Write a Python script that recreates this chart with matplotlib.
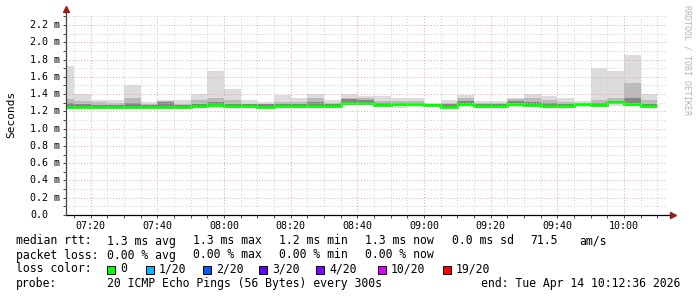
import matplotlib
matplotlib.use("Agg")
import matplotlib.pyplot as plt
import matplotlib.dates as mdates
from matplotlib.patches import Rectangle
import numpy as np
import pandas as pd

# smokeping data, one value per 5 minute step, in ms
median_ms = [1.245, 1.245, 1.245, 1.245, 1.245, 1.245, 1.25, 1.255, 1.26, 1.275,
             1.26, 1.26, 1.255, 1.26, 1.26, 1.266, 1.266, 1.30, 1.293, 1.277,
             1.285, 1.285, 1.277, 1.255, 1.28, 1.26, 1.26, 1.28, 1.27, 1.266,
             1.262, 1.285, 1.277, 1.305, 1.28, 1.259]
min_ms = [1.23, 1.235, 1.235, 1.235, 1.235, 1.235, 1.225, 1.23, 1.24, 1.235,
          1.245, 1.245, 1.235, 1.245, 1.245, 1.25, 1.245, 1.27, 1.27, 1.245,
          1.24, 1.245, 1.26, 1.24, 1.255, 1.25, 1.25, 1.255, 1.255, 1.245,
          1.25, 1.25, 1.255, 1.26, 1.26, 1.245]
max_ms = [1.72, 1.40, 1.33, 1.33, 1.51, 1.31, 1.33, 1.33, 1.40, 1.67,
          1.46, 1.33, 1.31, 1.385, 1.35, 1.40, 1.33, 1.40, 1.38, 1.38,
          1.36, 1.36, 1.30, 1.33, 1.39, 1.315, 1.315, 1.36, 1.40, 1.38,
          1.35, 1.32, 1.70, 1.67, 1.85, 1.40]
inner_ms = [1.34, 1.32, 1.31, 1.30, 1.35, 1.29, 1.32, 1.29, 1.33, 1.36,
            1.33, 1.29, 1.29, 1.31, 1.31, 1.35, 1.30, 1.36, 1.35, 1.32,
            1.32, 1.32, 1.29, 1.30, 1.36, 1.30, 1.30, 1.34, 1.35, 1.33,
            1.31, 1.30, 1.33, 1.35, 1.53, 1.33]
dark_ms = [1.30, 1.28, 1.27, 1.27, 1.30, 1.27, 1.31, 1.27, 1.29, 1.31,
           1.29, 1.28, 1.28, 1.29, 1.28, 1.31, 1.28, 1.34, 1.33, 1.30,
           1.30, 1.30, 1.285, 1.28, 1.32, 1.28, 1.28, 1.32, 1.31, 1.30,
           1.28, 1.295, 1.30, 1.32, 1.36, 1.29]

first_step = "2026-04-14 07:10"
view_start = "2026-04-14 07:12:36"
view_end = "2026-04-14 10:12:36"

y_ticks = [0.0, 0.2, 0.4, 0.6, 0.8, 1.0, 1.2, 1.4, 1.6, 1.8, 2.0, 2.2]

rtt_row = ["1.3 ms avg", "1.3 ms max", "1.2 ms min", "1.3 ms now", "0.0 ms sd", "71.5", "am/s"]
loss_row = ["0.00 % avg", "0.00 % max", "0.00 % min", "0.00 % now"]
loss_labels = ["0", "1/20", "2/20", "3/20", "4/20", "10/20", "19/20"]
loss_colors = ["#00ff00", "#00b8ff", "#0059ff", "#5e00ff", "#7e00ff", "#dd00ff", "#ff0000"]
probe_text = "20 ICMP Echo Pings (56 Bytes) every 300s"
end_text = "end: Tue Apr 14 10:12:36 2026"

MONO = "DejaVu Sans Mono"
W, H = 697, 297


def fx(x):
    return x / W


def fy(y):
    return 1 - y / H


fig = plt.figure(figsize=(W / 100, H / 100), dpi=100)
fig.patch.set_facecolor("white")
ax = fig.add_axes([fx(66), fy(215), 600 / W, 201 / H])

med = np.array(median_ms)
lo = np.array(min_ms)
hi = np.array(max_ms)
inner = np.array(inner_ms)
dark = np.array(dark_ms)

starts = pd.date_range(first_step, periods=len(med), freq="5min")
x = mdates.date2num(starts.to_pydatetime())
w = 5 / (24 * 60)

ax.bar(x, hi - lo, bottom=lo, width=w, align="edge", color="#dcdcdc", lw=0)
ax.bar(x, inner - med, bottom=med, width=w, align="edge", color="#bababa", lw=0)
ax.bar(x, dark - med, bottom=med, width=w, align="edge", color="#858585", lw=0)
ax.stairs(med, np.append(x, x[-1] + w), baseline=None, color="#00ff00", lw=2.0)

ax.set_xlim(mdates.date2num(pd.Timestamp(view_start)), mdates.date2num(pd.Timestamp(view_end)))
ax.set_ylim(0, 2.327)

ax.xaxis.set_major_locator(mdates.MinuteLocator(byminute=[0, 20, 40]))
ax.xaxis.set_minor_locator(mdates.MinuteLocator(byminute=range(0, 60, 5)))
ax.xaxis.set_major_formatter(mdates.DateFormatter("%H:%M"))
ax.set_yticks(y_ticks)
ax.set_yticks(np.arange(0.1, 2.35, 0.2), minor=True)
ax.set_yticklabels([])

ax.set_axisbelow(False)
ax.grid(which="minor", color="#cfcfcf", ls=(0, (1, 2)), lw=0.7)
ax.grid(which="major", color="#eba3a3", ls=(0, (1, 2)), lw=0.7)

ax.tick_params(which="both", length=2, width=0.7, color="#404040", direction="out")
ax.tick_params(axis="x", pad=2.5, labelsize=7.2)
for lab in ax.get_xticklabels():
    lab.set_family(MONO)

for v in y_ticks:
    txt = "0.0" if v == 0 else f"{v:.1f} m"
    ax.text(-0.06, v, txt, transform=ax.get_yaxis_transform(), ha="left", va="center",
            fontsize=7.2, family=MONO)

for s in ["top", "right", "bottom", "left"]:
    ax.spines[s].set_visible(False)
ax.plot([0, 1.01], [0, 0], transform=ax.transAxes, color="#000000", lw=0.9, clip_on=False)
ax.plot([0, 0], [0, 1.02], transform=ax.transAxes, color="#404040", lw=0.9, clip_on=False)
ax.plot([1.012], [0], marker=">", ms=4, color="#9b1c1c", transform=ax.transAxes, clip_on=False)
ax.plot([0], [1.025], marker="^", ms=4, color="#9b1c1c", transform=ax.transAxes, clip_on=False)

fig.text(fx(11), fy(114), "Seconds", rotation=90, ha="center", va="center", fontsize=8, family=MONO)
fig.text(fx(687.5), fy(5), "RRDTOOL / TOBI OETIKER", rotation=-90, ha="center", va="top",
         fontsize=6, family=MONO, color="#b4b4b4")

# legend block
fs = 8.3
col_x = [107.3, 193.3, 279.3, 365, 451.7, 530, 579.3]
fig.text(fx(16), fy(241), "median rtt:", fontsize=fs, family=MONO, va="center")
for cx, t in zip(col_x, rtt_row):
    fig.text(fx(cx), fy(241), t, fontsize=fs, family=MONO, va="center")
fig.text(fx(16), fy(255), "packet loss:", fontsize=fs, family=MONO, va="center")
for cx, t in zip(col_x, loss_row):
    fig.text(fx(cx), fy(255), t, fontsize=fs, family=MONO, va="center")

fig.text(fx(16), fy(269), "loss color:", fontsize=fs, family=MONO, va="center")
box_x = [107.3, 146, 202.7, 259.3, 316, 377.7, 442.7]
for bx, lab, c in zip(box_x, loss_labels, loss_colors):
    fig.add_artist(Rectangle((fx(bx), fy(273.5)), 8 / W, 8 / H, transform=fig.transFigure,
                             facecolor=c, edgecolor="black", lw=0.7))
    fig.text(fx(bx + 13), fy(269), lab, fontsize=fs, family=MONO, va="center")

fig.text(fx(16), fy(283), "probe:", fontsize=fs, family=MONO, va="center")
fig.text(fx(107.3), fy(283), probe_text, fontsize=fs, family=MONO, va="center")
fig.text(fx(680), fy(283), end_text, fontsize=fs, family=MONO, va="center", ha="right")

fig.savefig("out.png", dpi=100)
